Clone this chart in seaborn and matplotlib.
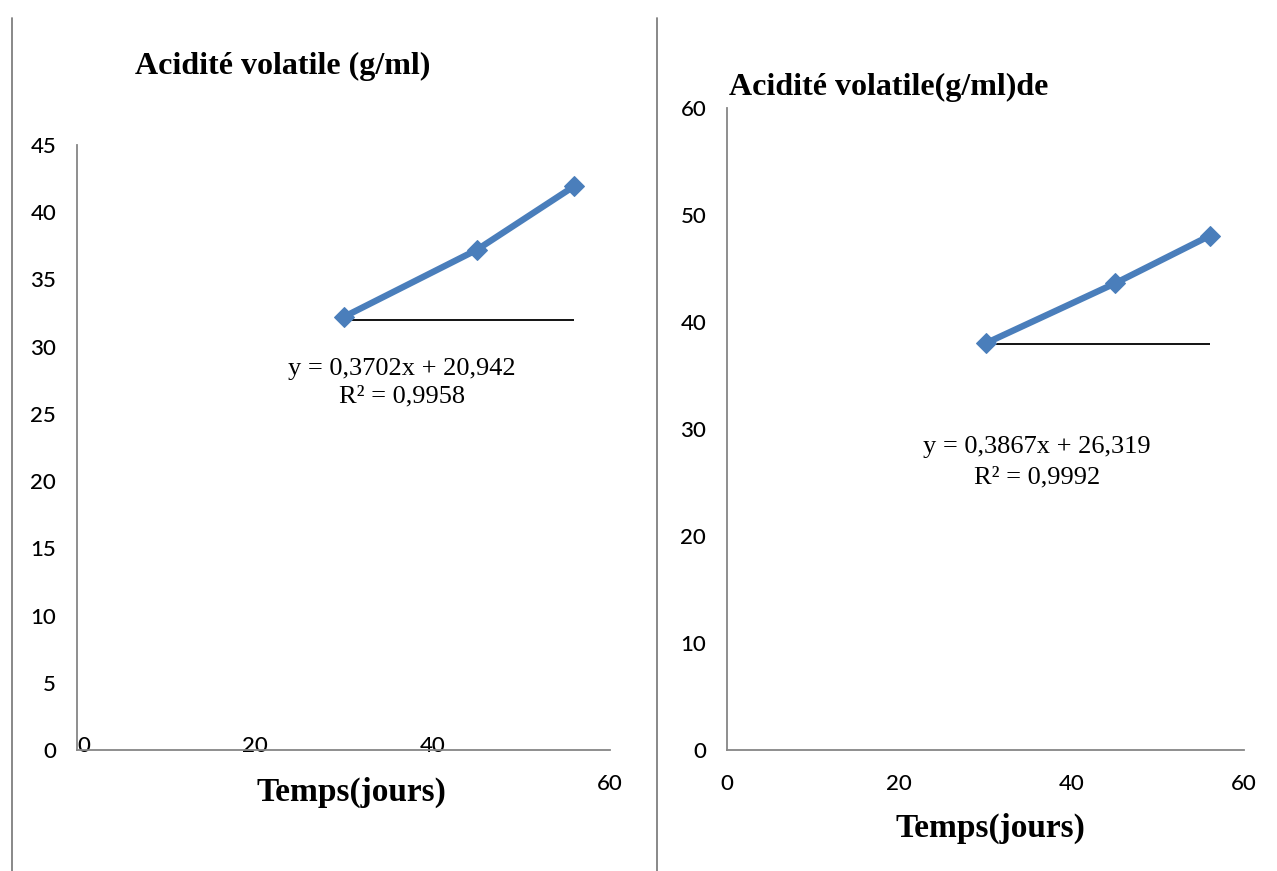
import matplotlib
matplotlib.use("Agg")
import matplotlib.pyplot as plt
from matplotlib.lines import Line2D
import seaborn as sns
import pandas as pd

# ---- data ----
days = [30, 45, 56]
acid_left = [32.2, 37.2, 41.95]
acid_right = [38.0, 43.6, 48.05]
base_left = 32.0
base_right = 37.9
eq_left = ["y = 0,3702x + 20,942", "R² = 0,9958"]
eq_right = ["y = 0,3867x + 26,319", "R² = 0,9992"]
title_left = "Acidité volatile (g/ml)"
title_right = "Acidité volatile(g/ml)de"
xlabel = "Temps(jours)"
xticks = [0, 20, 40, 60]
yticks_left = [0, 5, 10, 15, 20, 25, 30, 35, 40, 45]
yticks_right = [0, 10, 20, 30, 40, 50, 60]

sns.set_theme(style="white")
plt.rcParams['font.family'] = ['Lato', 'DejaVu Sans']
plt.rcParams['text.color'] = 'black'

W, H = 1277, 871
fig = plt.figure(figsize=(W / 100, H / 100), dpi=100)

def fx(px):
    return px / W

def fy(py):
    return 1 - py / H

BLUE = "#4A7EBB"
AXC = "#868686"
SERIF = ['Liberation Serif', 'DejaVu Serif']

def style_axes(ax, yticks, ylim):
    ax.set_xlim(0, 60)
    ax.set_ylim(*ylim)
    ax.set_xticks(xticks)
    ax.set_yticks(yticks)
    ax.set_xticklabels([str(t) for t in xticks])
    ax.set_yticklabels([str(t) for t in yticks])
    for s in ["top", "right"]:
        ax.spines[s].set_visible(False)
    for s in ["left", "bottom"]:
        ax.spines[s].set_color(AXC)
        ax.spines[s].set_linewidth(1.3)
    ax.tick_params(axis="both", direction="out", length=6, width=1.3,
                   color=AXC, labelsize=16, labelcolor="black")
    for lab in ax.get_xticklabels() + ax.get_yticklabels():
        lab.set_fontweight("medium")
    ax.tick_params(axis="y", pad=9)
    ax.set_xlabel("")
    ax.set_ylabel("")
    ax.grid(False)
    ax.set_facecolor("none")

def draw(ax, y, base):
    df = pd.DataFrame({"Temps": days, "Acidite": y})
    sns.lineplot(data=df, x="Temps", y="Acidite", ax=ax, color=BLUE,
                 linewidth=4.6, marker="D", markersize=10.5,
                 markeredgecolor=BLUE, markerfacecolor=BLUE, zorder=3)
    ax.hlines(base, days[0], days[-1], color="black", linewidth=1.3, zorder=2)

# left chart
axL = fig.add_axes([fx(77), fy(750), fx(610) - fx(77), fy(145) - fy(750)])
draw(axL, acid_left, base_left)
style_axes(axL, yticks_left, (0, 45))
axL.tick_params(axis="x", pad=11)
for i, tk in enumerate(axL.xaxis.get_major_ticks()):
    if i < 3:
        tk.set_pad(-16)
axL.xaxis.get_major_ticks()[0].label1.set_horizontalalignment("left")

# right chart
axR = fig.add_axes([fx(727), fy(750), fx(1244) - fx(727), fy(108) - fy(750)])
draw(axR, acid_right, base_right)
style_axes(axR, yticks_right, (0, 60))
axR.tick_params(axis="x", pad=11)

# titles
fig.text(fx(283), fy(66), title_left, family=SERIF, fontweight="bold",
         fontsize=23, ha="center", va="center")
fig.text(fx(729), fy(87), title_right, family=SERIF, fontweight="bold",
         fontsize=23, ha="left", va="center")

# x labels
fig.text(fx(351), fy(792), xlabel, family=SERIF, fontweight="bold",
         fontsize=24, ha="center", va="center")
fig.text(fx(990), fy(828), xlabel, family=SERIF, fontweight="bold",
         fontsize=24, ha="center", va="center")

# equations
fig.text(fx(402), fy(369), eq_left[0], family=SERIF, fontsize=19, ha="center", va="center")
fig.text(fx(402), fy(396), eq_left[1], family=SERIF, fontsize=19, ha="center", va="center")
fig.text(fx(1037), fy(447), eq_right[0], family=SERIF, fontsize=19, ha="center", va="center")
fig.text(fx(1037), fy(477), eq_right[1], family=SERIF, fontsize=19, ha="center", va="center")

# page separator lines
for px in (12, 657):
    fig.add_artist(Line2D([fx(px), fx(px)], [fy(18), fy(871)], color="#7F7F7F",
                          linewidth=1.3, transform=fig.transFigure))

fig.savefig("out.png", dpi=100, facecolor="white")
